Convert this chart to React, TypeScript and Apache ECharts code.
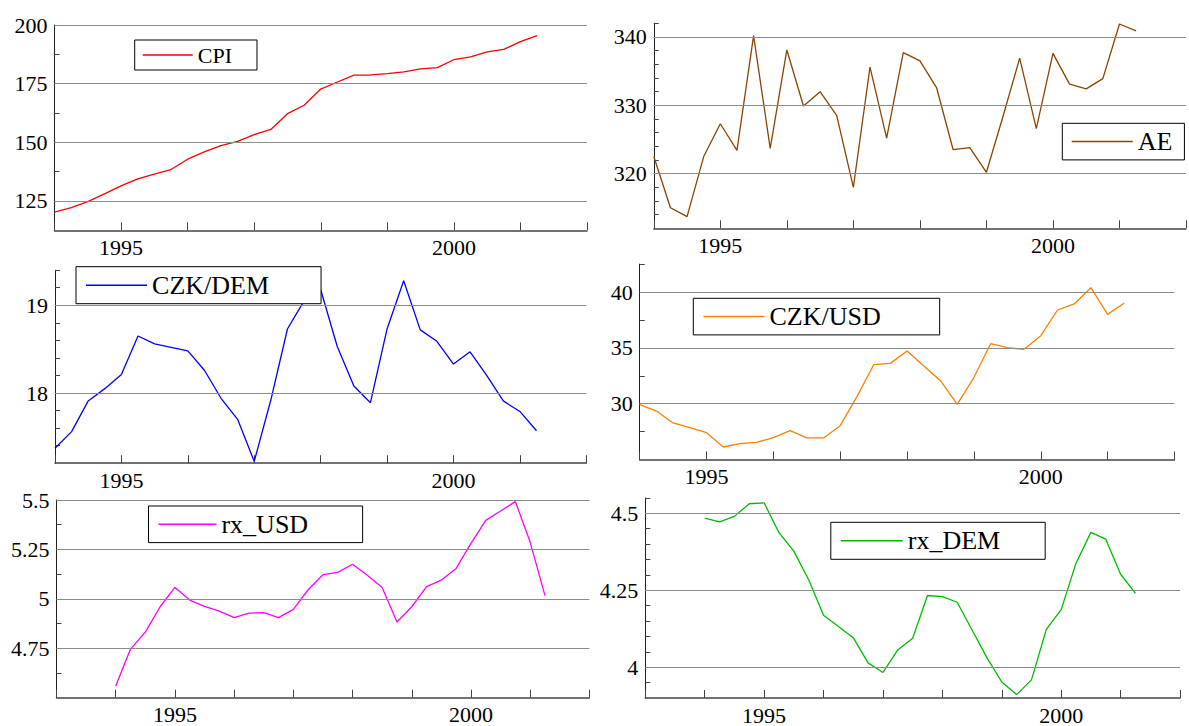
import { useEffect, useRef } from "react";
import * as echarts from "echarts";

// Quarterly observations, 1994Q1 .. 2001Q2
const START_YEAR = 1994;
const QUARTERS_PER_YEAR = 4;
const xTickLabels = [1995, 2000];

const cpi = [120.2, 122.2, 124.7, 128.0, 131.4, 134.4, 136.4, 138.4, 142.8, 145.9, 148.6, 150.4, 153.3, 155.5, 162.2, 165.8, 172.7, 175.7, 178.6, 178.7, 179.3, 180.0, 181.3, 181.8, 185.2, 186.4, 188.5, 189.6, 192.9, 195.5];
const ae = [322.5, 315.0, 313.7, 322.5, 327.3, 323.4, 340.2, 323.7, 338.1, 329.9, 332.0, 328.5, 318.0, 335.6, 325.2, 337.7, 336.5, 332.6, 323.5, 323.8, 320.2, 328.4, 336.9, 326.6, 337.6, 333.1, 332.4, 333.9, 341.9, 340.9];
const czkDem = [17.37, 17.56, 17.91, 18.05, 18.21, 18.65, 18.56, 18.52, 18.48, 18.26, 17.94, 17.70, 17.22, 17.92, 18.73, 19.05, 19.18, 18.53, 18.08, 17.89, 18.73, 19.28, 18.72, 18.59, 18.33, 18.47, 18.20, 17.91, 17.79, 17.57];
const czkUsd = [29.91, 29.34, 28.27, 27.85, 27.40, 26.12, 26.42, 26.54, 26.96, 27.58, 26.93, 26.93, 28.03, 30.63, 33.49, 33.61, 34.72, 33.37, 32.06, 29.94, 32.36, 35.37, 35.01, 34.87, 36.09, 38.39, 38.93, 40.39, 38.0, 39.01];
const rxUsd = [4.559, 4.746, 4.832, 4.960, 5.058, 4.994, 4.962, 4.938, 4.905, 4.928, 4.930, 4.905, 4.947, 5.046, 5.122, 5.134, 5.175, 5.119, 5.058, 4.883, 4.960, 5.062, 5.095, 5.154, 5.281, 5.397, 5.444, 5.492, 5.286, 5.016];
const rxDem = [4.484, 4.472, 4.490, 4.531, 4.534, 4.437, 4.377, 4.284, 4.169, 4.132, 4.096, 4.014, 3.983, 4.056, 4.094, 4.233, 4.229, 4.211, 4.121, 4.031, 3.952, 3.911, 3.959, 4.123, 4.187, 4.338, 4.438, 4.416, 4.302, 4.240];

const FONT = "Liberation Serif";

type Panel = {
  name: string;
  data: number[];
  color: string;
  grid: { x0: number; x1: number; y0: number; y1: number };
  xMin: number;
  xMax: number;
  yMin: number;
  yMax: number;
  minor: number;
  major: number;
  legend: { left: number; top: number; pad: number[]; itemWidth: number; fontSize: number };
};

const panels: Panel[] = [
  {
    name: "CPI", data: cpi, color: "#ff0000",
    grid: { x0: 54.5, x1: 587, y0: 25, y1: 230.3 },
    xMin: 1994, xMax: 2002, yMin: 112.5, yMax: 200, minor: 12.5, major: 25,
    legend: { left: 134.7, top: 40, pad: [4, 25, 4, 7.3], itemWidth: 50, fontSize: 22 },
  },
  {
    name: "AE", data: ae, color: "#8b4500",
    grid: { x0: 653.8, x1: 1188, y0: 23.3, y1: 228.3 },
    xMin: 1994, xMax: 2002, yMin: 312, yMax: 342, minor: 2, major: 10,
    legend: { left: 1062.3, top: 123.3, pad: [5.3, 12, 5.3, 8.7], itemWidth: 61, fontSize: 26 },
  },
  {
    name: "CZK/DEM", data: czkDem, color: "#0000ff",
    grid: { x0: 55, x1: 586.3, y0: 270.2, y1: 463.2 },
    xMin: 1994, xMax: 2002, yMin: 17.2, yMax: 19.4, minor: 0.2, major: 1,
    legend: { left: 76, top: 266.7, pad: [5.5, 52, 5.5, 9.3], itemWidth: 61, fontSize: 26 },
  },
  {
    name: "CZK/USD", data: czkUsd, color: "#ff8000",
    grid: { x0: 639.7, x1: 1174.5, y0: 264.1, y1: 459.5 },
    xMin: 1994, xMax: 2002, yMin: 25, yMax: 42.5, minor: 2.5, major: 5,
    legend: { left: 693.3, top: 298.3, pad: [5.3, 59, 5.3, 9.4], itemWidth: 61, fontSize: 26 },
  },
  {
    name: "rx_USD", data: rxUsd, color: "#ff00ff",
    grid: { x0: 56.5, x1: 589.4, y0: 500, y1: 697.7 },
    xMin: 1993, xMax: 2002, yMin: 4.5, yMax: 5.5, minor: 0.125, major: 0.25,
    legend: { left: 148.5, top: 506, pad: [5.3, 54.5, 5.3, 9.2], itemWidth: 58, fontSize: 26 },
  },
  {
    name: "rx_DEM", data: rxDem, color: "#00bb00",
    grid: { x0: 645.3, x1: 1180, y0: 497.9, y1: 698.1 },
    xMin: 1993, xMax: 2002, yMin: 3.9, yMax: 4.55, minor: 0.05, major: 0.25,
    legend: { left: 830.8, top: 522.3, pad: [5.5, 45, 5.5, 9.2], itemWidth: 62, fontSize: 26 },
  },
];

const isMultiple = (v: number, step: number) => {
  const r = v / step;
  return Math.abs(r - Math.round(r)) < 1e-6;
};

// major grid values strictly above the axis minimum
const majorsIn = (min: number, max: number, step: number) => {
  const out: number[] = [];
  for (let k = Math.ceil(min / step - 1e-9); k * step <= max + 1e-9; k++) {
    const v = Math.round(k * step * 1e6) / 1e6;
    if (v > min + 1e-9) out.push(v);
  }
  return out;
};

export default function App() {
  const ref = useRef<HTMLDivElement>(null);

  useEffect(() => {
    if (!ref.current) return;
    const chart = echarts.init(ref.current, undefined, { renderer: "svg" });

    const option: any = {
      animation: false,
      backgroundColor: "#ffffff",
      textStyle: { fontFamily: FONT },
      grid: panels.map((p) => ({
        left: p.grid.x0,
        top: p.grid.y0,
        width: p.grid.x1 - p.grid.x0,
        height: p.grid.y1 - p.grid.y0,
        containLabel: false,
      })),
      xAxis: panels.map((p, i) => ({
        type: "value",
        gridIndex: i,
        min: p.xMin,
        max: p.xMax,
        interval: 1,
        axisLine: { show: true, onZero: false, lineStyle: { color: "#444", width: 1.5 } },
        axisTick: { show: true, inside: true, length: 8, lineStyle: { color: "#444", width: 1 } },
        axisLabel: {
          show: true,
          margin: 6,
          color: "#000",
          fontSize: 22,
          fontFamily: FONT,
          formatter: (v: number) =>
            isMultiple(v, 1) && xTickLabels.includes(Math.round(v)) ? String(Math.round(v)) : "",
        },
        splitLine: { show: false },
      })),
      yAxis: panels.map((p, i) => ({
        type: "value",
        gridIndex: i,
        min: p.yMin,
        max: p.yMax,
        interval: p.minor,
        axisLine: { show: true, onZero: false, lineStyle: { color: "#222", width: 1 } },
        axisTick: { show: true, inside: true, length: 5, lineStyle: { color: "#444", width: 1 } },
        axisLabel: {
          show: true,
          showMinLabel: false,
          margin: 7,
          color: "#000",
          fontSize: 22,
          fontFamily: FONT,
          formatter: (v: number) =>
            v > p.yMin + 1e-9 && isMultiple(v, p.major) ? String(Math.round(v * 1000) / 1000) : "",
        },
        splitLine: { show: false },
      })),
      legend: panels.map((p) => ({
        data: [p.name],
        left: p.legend.left,
        top: p.legend.top,
        orient: "horizontal",
        padding: p.legend.pad,
        itemWidth: p.legend.itemWidth,
        itemHeight: p.legend.fontSize,
        itemGap: 0,
        borderColor: "#000",
        borderWidth: 1,
        backgroundColor: "#ffffff",
        selectedMode: false,
        itemStyle: { opacity: 0 },
        lineStyle: { width: 1.5 },
        textStyle: { color: "#000", fontSize: p.legend.fontSize, fontFamily: FONT },
      })),
      series: panels.map((p, i) => ({
        type: "line",
        name: p.name,
        xAxisIndex: i,
        yAxisIndex: i,
        symbol: "none",
        showSymbol: false,
        color: p.color,
        lineStyle: { color: p.color, width: 1.3 },
        data: p.data.map((v, k) => [START_YEAR + k / QUARTERS_PER_YEAR, v]),
        markLine: {
          silent: true,
          symbol: ["none", "none"],
          label: { show: false },
          lineStyle: { color: "#8c8c8c", width: 1, type: "solid" },
          emphasis: { disabled: true },
          data: majorsIn(p.yMin, p.yMax, p.major).map((y) => ({ yAxis: y })),
        },
      })),
    };

    chart.setOption(option);
    return () => chart.dispose();
  }, []);

  return (
    <div
      ref={ref}
      style={{ position: "fixed", left: 0, top: 0, width: 1189, height: 726, background: "#fff" }}
    />
  );
}
